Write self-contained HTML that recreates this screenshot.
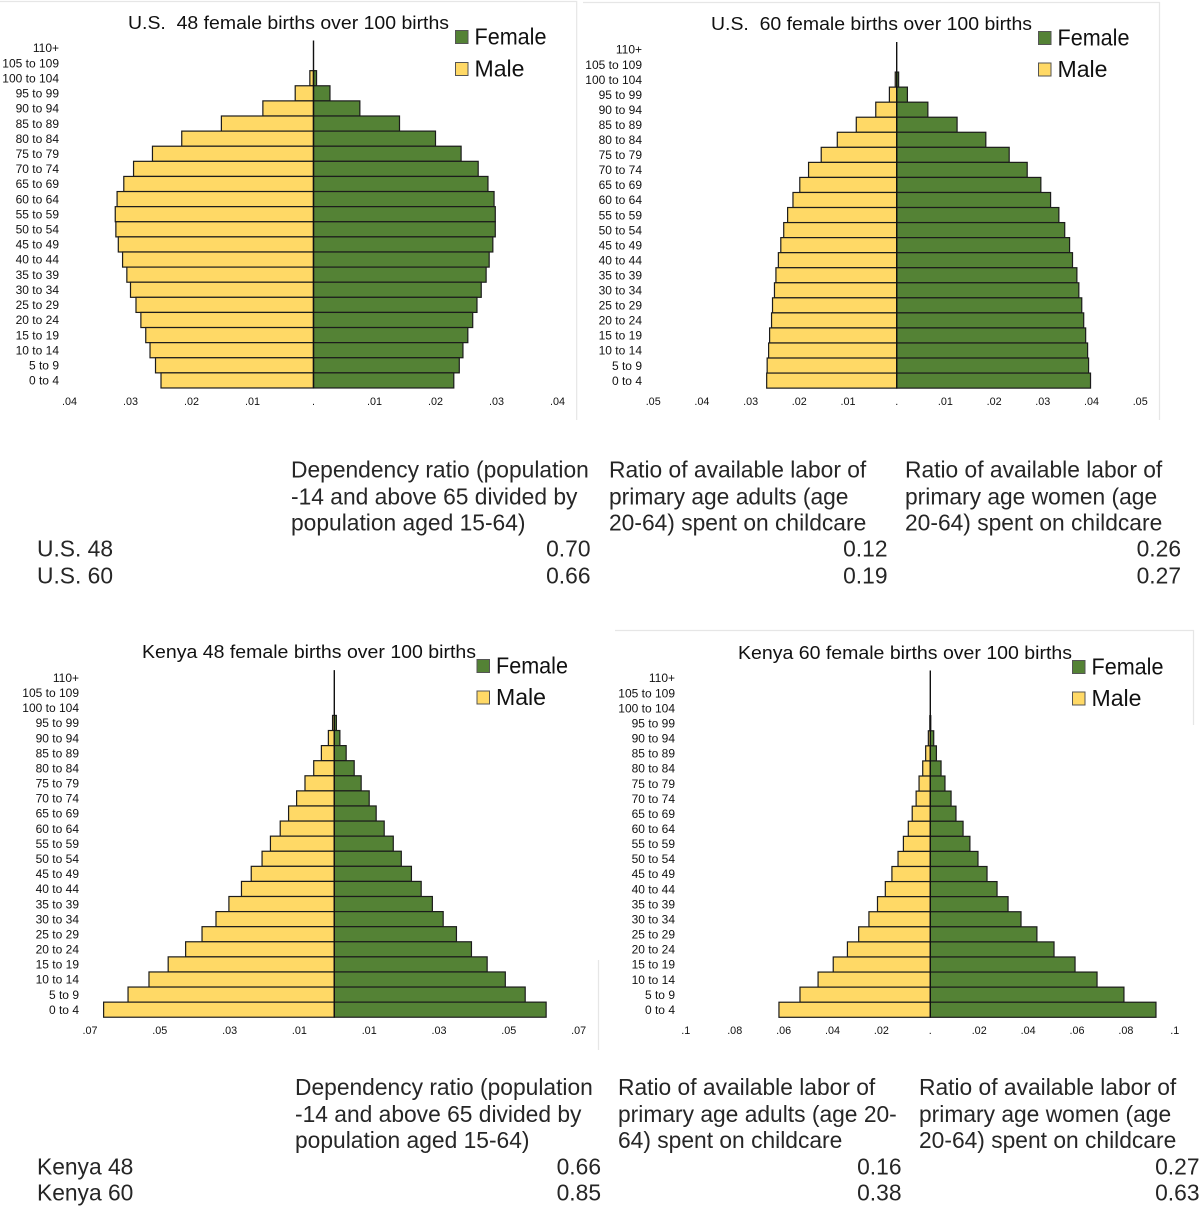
<!DOCTYPE html>
<html lang="en">
<head>
<meta charset="utf-8">
<title>Population pyramids</title>
<style>
html,body{margin:0;padding:0;background:#fff}
svg{display:block}
text{font-family:"Liberation Sans",Arial,sans-serif}
.tbl{font-size:22.8px;fill:#262626}
.ttl{font-size:18.5px;fill:#111}
.leg{font-size:23px;fill:#111}
.cat{font-size:12px;fill:#111;text-anchor:end}
.tick{font-size:10.8px;fill:#111;text-anchor:middle}
.end{text-anchor:end}
</style>
</head>
<body>
<svg id="page" xmlns="http://www.w3.org/2000/svg" width="1200" height="1208" viewBox="0 0 1200 1208">
  <rect x="0" y="0" width="1200" height="1208" fill="#fff"/>
  <g stroke="#e6e6e6" stroke-width="1.2" fill="none">
    <path d="M0 1.5H576.7V420"/>
    <path d="M583 2.5H1159.5V420"/>
    <path d="M615 630.5H1193.5V725"/>
    <path d="M598.5 960V1050"/>
  </g>
  <g id="charts"></g>

  <g>
    <text class="tbl" x="291" y="477.5">Dependency ratio (population</text>
    <text class="tbl" x="291" y="504.5">-14 and above 65 divided by</text>
    <text class="tbl" x="291" y="530.5">population aged 15-64)</text>
    <text class="tbl" x="609" y="477.5">Ratio of available labor of</text>
    <text class="tbl" x="609" y="504.5">primary age adults (age</text>
    <text class="tbl" x="609" y="530.5">20-64) spent on childcare</text>
    <text class="tbl" x="905" y="477.5">Ratio of available labor of</text>
    <text class="tbl" x="905" y="504.5">primary age women (age</text>
    <text class="tbl" x="905" y="530.5">20-64) spent on childcare</text>
    <text class="tbl" x="37" y="556.5">U.S. 48</text>
    <text class="tbl end" x="590.5" y="556.5">0.70</text>
    <text class="tbl end" x="887.5" y="556.5">0.12</text>
    <text class="tbl end" x="1181" y="556.5">0.26</text>
    <text class="tbl" x="37" y="583.5">U.S. 60</text>
    <text class="tbl end" x="590.5" y="583.5">0.66</text>
    <text class="tbl end" x="887.5" y="583.5">0.19</text>
    <text class="tbl end" x="1181" y="583.5">0.27</text>
  </g>

  <g>
    <text class="tbl" x="295" y="1095">Dependency ratio (population</text>
    <text class="tbl" x="295" y="1122">-14 and above 65 divided by</text>
    <text class="tbl" x="295" y="1148">population aged 15-64)</text>
    <text class="tbl" x="618" y="1095">Ratio of available labor of</text>
    <text class="tbl" x="618" y="1122">primary age adults (age 20-</text>
    <text class="tbl" x="618" y="1148">64) spent on childcare</text>
    <text class="tbl" x="919" y="1095">Ratio of available labor of</text>
    <text class="tbl" x="919" y="1122">primary age women (age</text>
    <text class="tbl" x="919" y="1148">20-64) spent on childcare</text>
    <text class="tbl" x="37" y="1174.5">Kenya 48</text>
    <text class="tbl end" x="601" y="1174.5">0.66</text>
    <text class="tbl end" x="901.5" y="1174.5">0.16</text>
    <text class="tbl end" x="1199.5" y="1174.5">0.27</text>
    <text class="tbl" x="37" y="1200.5">Kenya 60</text>
    <text class="tbl end" x="601" y="1200.5">0.85</text>
    <text class="tbl end" x="901.5" y="1200.5">0.38</text>
    <text class="tbl end" x="1199.5" y="1200.5">0.63</text>
  </g>
</svg>

<script>
const ageGroups = ['110+','105 to 109','100 to 104','95 to 99','90 to 94','85 to 89','80 to 84','75 to 79','70 to 74','65 to 69','60 to 64','55 to 59','50 to 54','45 to 49','40 to 44','35 to 39','30 to 34','25 to 29','20 to 24','15 to 19','10 to 14','5 to 9','0 to 4'];

const us48Male = [0,0,.0006,.0030,.0083,.0151,.0216,.0264,.0295,.0311,.0322,.0325,.0324,.0320,.0313,.0306,.0300,.0291,.0283,.0275,.0268,.0259,.0250];
const us48Female = [0,0,.0005,.0027,.0076,.0141,.0200,.0242,.0270,.0286,.0296,.0298,.0298,.0294,.0288,.0283,.0275,.0268,.0261,.0253,.0245,.0239,.0230];
const us48Ticks = [-.04,-.03,-.02,-.01,0,.01,.02,.03,.04];

const us60Male = [0,0,.0003,.0015,.0043,.0083,.0122,.0155,.0181,.0199,.0213,.0224,.0232,.0238,.0243,.0248,.0251,.0255,.0257,.0261,.0263,.0266,.0267];
const us60Female = [0,0,.0004,.0022,.0064,.0124,.0183,.0231,.0268,.0296,.0316,.0333,.0345,.0355,.0361,.0370,.0374,.0380,.0384,.0388,.0392,.0394,.0398];
const us60Ticks = [-.05,-.04,-.03,-.02,-.01,0,.01,.02,.03,.04,.05];

const kenya48Male = [0,0,0,.0005,.0017,.0037,.0059,.0084,.0108,.0131,.0155,.0183,.0207,.0238,.0266,.0302,.0339,.0379,.0426,.0476,.0531,.0591,.0661];
const kenya48Female = [0,0,0,.0006,.0016,.0034,.0057,.0077,.0100,.0120,.0143,.0169,.0192,.0221,.0249,.0281,.0312,.0350,.0393,.0438,.0490,.0547,.0607];
const kenya48Ticks = [-.07,-.05,-.03,-.01,.01,.03,.05,.07];

const kenya60Male = [0,0,0,.0002,.0008,.0019,.0031,.0046,.0058,.0074,.0090,.0110,.0132,.0157,.0184,.0216,.0251,.0293,.0339,.0397,.0459,.0533,.0619];
const kenya60Female = [0,0,0,.0002,.0014,.0025,.0044,.0060,.0085,.0105,.0134,.0162,.0195,.0232,.0273,.0318,.0371,.0436,.0506,.0592,.0682,.0792,.0923];
const kenya60Ticks = [-.1,-.08,-.06,-.04,-.02,0,.02,.04,.06,.08,.1];

const FEMALE_COLOR = '#548235';
const MALE_COLOR = '#FFD966';
const NS = 'http://www.w3.org/2000/svg';

function drawPyramid(id, title, male, female, ticks, L) {
  const root = document.getElementById('charts');
  const g = document.createElementNS(NS, 'g');
  
  
  root.appendChild(g);

  const xMale = v => L.cx - v * L.scale;
  const xFemale = v => L.cx + v * L.scale;
  const xTick = v => L.cx + v * L.scale;
  const yRow = i => L.y0 + i * L.step;

  const t = document.createElementNS(NS, 'text');
  
  
  t.setAttribute('class', 'ttl');
  t.setAttribute('x', L.titleX);
  t.setAttribute('y', L.titleY);
  t.setAttribute('textLength', L.titleW);
  t.setAttribute('lengthAdjust', 'spacingAndGlyphs');
  t.setAttribute('xml:space', 'preserve');
  t.style.whiteSpace = 'pre';
  t.textContent = title;
  g.appendChild(t);

  ageGroups.forEach((label, i) => {
    const c = document.createElementNS(NS, 'text');
    
    
    c.setAttribute('class', 'cat');
    c.setAttribute('x', L.catX);
    c.setAttribute('y', yRow(i) + 4.2);
    c.textContent = label;
    g.appendChild(c);
  });

  male.forEach((v, i) => {
    if (v <= 0) return;
    const r = document.createElementNS(NS, 'rect');
    
    
    r.setAttribute('x', xMale(v));
    r.setAttribute('y', yRow(i) - L.step / 2);
    r.setAttribute('width', L.cx - xMale(v));
    r.setAttribute('height', L.step);
    r.setAttribute('fill', MALE_COLOR);
    r.setAttribute('stroke', '#1c1c1c');
    r.setAttribute('stroke-width', '1.2');
    g.appendChild(r);
  });

  female.forEach((v, i) => {
    if (v <= 0) return;
    const r = document.createElementNS(NS, 'rect');
    
    
    r.setAttribute('x', L.cx);
    r.setAttribute('y', yRow(i) - L.step / 2);
    r.setAttribute('width', xFemale(v) - L.cx);
    r.setAttribute('height', L.step);
    r.setAttribute('fill', FEMALE_COLOR);
    r.setAttribute('stroke', '#1c1c1c');
    r.setAttribute('stroke-width', '1.2');
    g.appendChild(r);
  });

  const spine = document.createElementNS(NS, 'line');
  
  
  spine.setAttribute('x1', L.cx);
  spine.setAttribute('x2', L.cx);
  spine.setAttribute('y1', yRow(0) - L.step / 2);
  spine.setAttribute('y2', yRow(ageGroups.length - 1) + L.step / 2);
  spine.setAttribute('stroke', '#111');
  spine.setAttribute('stroke-width', '1.4');
  g.appendChild(spine);

  ticks.forEach(v => {
    const a = document.createElementNS(NS, 'text');
    
    
    a.setAttribute('class', 'tick');
    a.setAttribute('x', xTick(v));
    a.setAttribute('y', L.tickY);
    a.textContent = v === 0 ? '.' : String(Math.abs(v)).replace(/^0/, '');
    g.appendChild(a);
  });

  [['Female', FEMALE_COLOR, L.legY1], ['Male', MALE_COLOR, L.legY2]].forEach(e => {
    const s = document.createElementNS(NS, 'rect');
    
    
    s.setAttribute('x', L.legX);
    s.setAttribute('y', e[2]);
    s.setAttribute('width', 12.5);
    s.setAttribute('height', 13);
    s.setAttribute('fill', e[1]);
    s.setAttribute('stroke', '#555');
    s.setAttribute('stroke-width', '1');
    g.appendChild(s);
    const x = document.createElementNS(NS, 'text');
    
    
    x.setAttribute('class', 'leg');
    x.setAttribute('x', L.legX + 19);
    x.setAttribute('y', e[2] + 14);
    x.setAttribute('textLength', e[0] === 'Female' ? 72 : 50);
    x.setAttribute('lengthAdjust', 'spacingAndGlyphs');
    x.textContent = e[0];
    g.appendChild(x);
  });
}

drawPyramid('us-48', 'U.S.  48 female births over 100 births', us48Male, us48Female, us48Ticks,
  {cx:313.5, scale:6100, y0:48, step:15.11, catX:59, tickY:405, titleX:128, titleY:29, titleW:321, legX:455.5, legY1:30.5, legY2:62.5});
drawPyramid('us-60', 'U.S.  60 female births over 100 births', us60Male, us60Female, us60Ticks,
  {cx:896.7, scale:4870, y0:49.5, step:15.05, catX:642, tickY:405, titleX:711, titleY:30, titleW:321, legX:1038.5, legY1:31.5, legY2:63});
drawPyramid('kenya-48', 'Kenya 48 female births over 100 births', kenya48Male, kenya48Female, kenya48Ticks,
  {cx:334.3, scale:3490, y0:677.7, step:15.09, catX:79, tickY:1034, titleX:142, titleY:658, titleW:334, legX:477, legY1:659.5, legY2:691});
drawPyramid('kenya-60', 'Kenya 60 female births over 100 births', kenya60Male, kenya60Female, kenya60Ticks,
  {cx:930.3, scale:2445, y0:678, step:15.08, catX:675, tickY:1034, titleX:738, titleY:659, titleW:334, legX:1072.5, legY1:660.5, legY2:692});
</script>
</body>
</html>
